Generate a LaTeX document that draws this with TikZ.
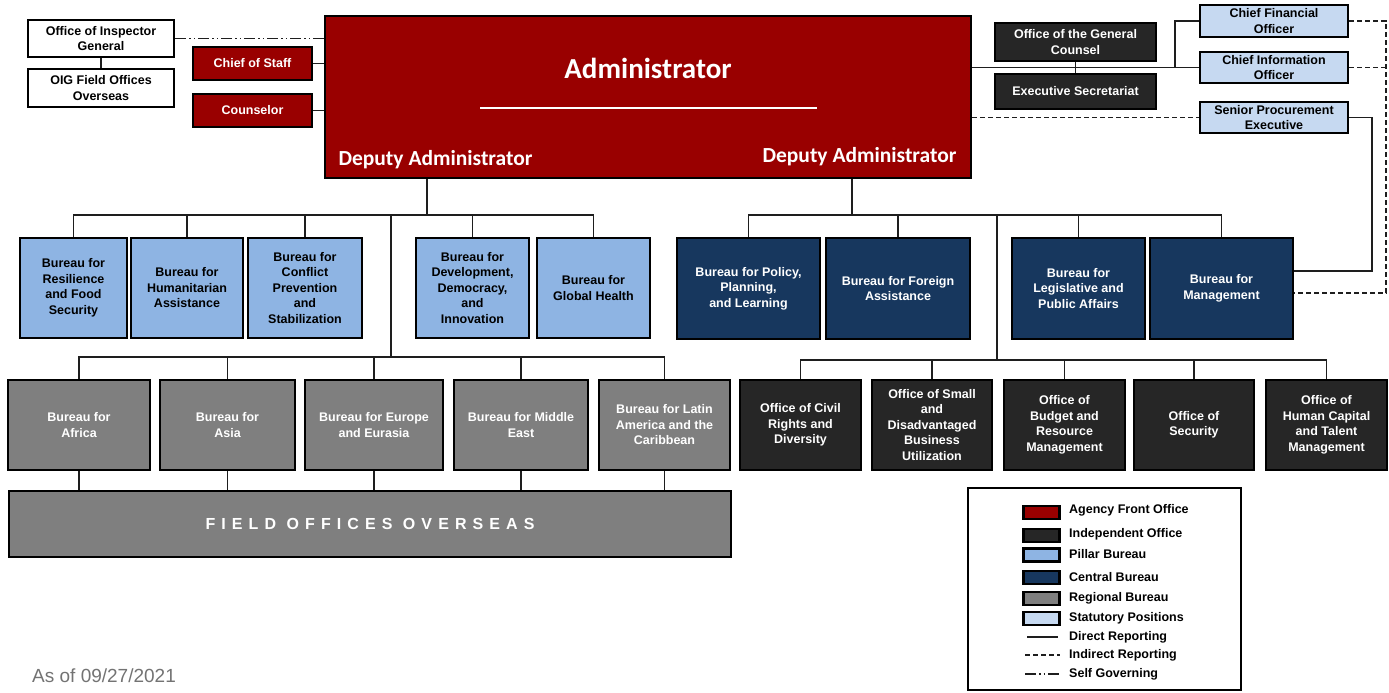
\documentclass[tikz,border=0pt]{standalone}
\usepackage{fontspec}
\setmainfont{Liberation Sans}
\newfontfamily\calfont{Carlito}
\definecolor{afo}{RGB}{153,0,0}
\definecolor{indep}{RGB}{38,38,38}
\definecolor{pillar}{RGB}{142,180,227}
\definecolor{central}{RGB}{23,55,94}
\definecolor{regional}{RGB}{127,127,127}
\definecolor{statut}{RGB}{198,217,241}
\definecolor{linec}{RGB}{30,30,30}
\begin{document}
\begin{tikzpicture}[x=1pt,y=-1pt,
  box/.style={draw=black, line width=2.6pt, align=center, inner sep=2pt,
    font=\fontsize{12.5}{15.5}\selectfont\bfseries},
  afobox/.style={box, fill=afo, text=white},
  indbox/.style={box, fill=indep, text=white},
  pilbox/.style={box, fill=pillar, text=black},
  cenbox/.style={box, fill=central, text=white},
  regbox/.style={box, fill=regional, text=white},
  statbox/.style={box, fill=statut, text=black},
  plainbox/.style={box, fill=white, text=black},
  conn/.style={draw=linec, line width=1.2pt},
  dashedc/.style={draw=linec, line width=1.2pt, dash pattern=on 5pt off 3pt},
  selfgov/.style={draw=linec, line width=1.2pt, dash pattern=on 11pt off 3pt on 1.5pt off 3pt on 1.5pt off 3pt},
  swatch/.style={draw=black, line width=2.4pt, minimum width=36pt, minimum height=13pt, inner sep=0pt},
  legtext/.style={anchor=west, inner sep=0pt, font=\fontsize{12.5}{14}\selectfont\bfseries}
]
\useasboundingbox (0,0) rectangle (1389,693);

% ---------- top ----------
\node[afobox, minimum width=646pt, minimum height=162pt] (admin) at (648,97) {};
\node[text=white, font=\calfont\bfseries\fontsize{29}{32}\selectfont] (admtitle) at (648,68) {Administrator};
\draw[white, line width=2.5pt] (480,108) -- (817,108);
\node[text=white, font=\calfont\bfseries\fontsize{21.5}{24}\selectfont] (depL) at (435.5,160) {Deputy Administrator};
\node[text=white, font=\calfont\bfseries\fontsize{21.5}{24}\selectfont] (depR) at (859.5,157) {Deputy Administrator};

\node[plainbox, minimum width=146pt, minimum height=37pt] (oig) at (101,38.5) {Office of Inspector\\General};
\node[plainbox, minimum width=146pt, minimum height=38pt] (oigf) at (101,88) {OIG Field Offices\\Overseas};
\node[afobox, minimum width=119pt, minimum height=33pt] (cos) at (252.5,63.5) {Chief of Staff};
\node[afobox, minimum width=119pt, minimum height=33pt] (couns) at (252.5,110.5) {Counselor};

\node[indbox, minimum width=161pt, minimum height=38pt] (ogc) at (1075.5,42) {Office of the General\\Counsel};
\node[indbox, minimum width=161pt, minimum height=35pt] (es) at (1075.5,91.5) {Executive Secretariat};
\node[statbox, minimum width=148pt, minimum height=32pt] (cfo) at (1274,21) {Chief Financial\\Officer};
\node[statbox, minimum width=148pt, minimum height=31pt] (cio) at (1274,67.5) {Chief Information\\Officer};
\node[statbox, minimum width=148pt, minimum height=31pt] (spe) at (1274,117.5) {Senior Procurement\\Executive};

% ---------- pillar bureaus ----------
\node[pilbox, minimum width=107pt, minimum height=100pt] (res) at (73.5,288) {Bureau for\\Resilience\\and Food\\Security};
\node[pilbox, minimum width=112pt, minimum height=100pt] (hum) at (187,288) {Bureau for\\Humanitarian\\Assistance};
\node[pilbox, minimum width=114pt, minimum height=100pt] (con) at (305,288) {Bureau for\\Conflict\\Prevention\\and\\Stabilization};
\node[pilbox, minimum width=113pt, minimum height=100pt] (dev) at (472.5,288) {Bureau for\\Development,\\Democracy,\\and\\Innovation};
\node[pilbox, minimum width=113pt, minimum height=100pt] (gh) at (593.5,288) {Bureau for\\Global Health};

% ---------- central bureaus ----------
\node[cenbox, minimum width=143pt, minimum height=101pt] (pol) at (748.5,288.5) {Bureau for Policy,\\Planning,\\and Learning};
\node[cenbox, minimum width=144pt, minimum height=101pt] (fa) at (898,288.5) {Bureau for Foreign\\Assistance};
\node[cenbox, minimum width=133pt, minimum height=101pt] (leg) at (1078.5,288.5) {Bureau for\\Legislative and\\Public Affairs};
\node[cenbox, minimum width=143pt, minimum height=101pt] (mgmt) at (1221.5,288.5) {Bureau for\\Management};

% ---------- regional bureaus ----------
\node[regbox, minimum width=142pt, minimum height=90pt] (afr) at (79,425) {Bureau for\\Africa};
\node[regbox, minimum width=135pt, minimum height=90pt] (asia) at (227.5,425) {Bureau for\\Asia};
\node[regbox, minimum width=138pt, minimum height=90pt] (eur) at (374,425) {Bureau for Europe\\and Eurasia};
\node[regbox, minimum width=134pt, minimum height=90pt] (me) at (521,425) {Bureau for Middle\\East};
\node[regbox, minimum width=131pt, minimum height=90pt] (lac) at (664.5,425) {Bureau for Latin\\America and the\\Caribbean};
\node[regbox, minimum width=722pt, minimum height=66pt,
  font=\fontsize{16}{18}\selectfont\bfseries\addfontfeature{LetterSpace=38}] (fo) at (370,524) {FIELD OFFICES OVERSEAS};

% ---------- independent offices ----------
\node[indbox, minimum width=121pt, minimum height=90pt] (civ) at (800.5,425) {Office of Civil\\Rights and\\Diversity};
\node[indbox, minimum width=120pt, minimum height=90pt] (sdb) at (932,425) {Office of Small\\and\\Disadvantaged\\Business\\Utilization};
\node[indbox, minimum width=121pt, minimum height=90pt] (bud) at (1064.5,425) {Office of\\Budget and\\Resource\\Management};
\node[indbox, minimum width=120pt, minimum height=90pt] (sec) at (1194,425) {Office of\\Security};
\node[indbox, minimum width=121pt, minimum height=90pt] (hc) at (1326.5,425) {Office of\\Human Capital\\and Talent\\Management};

% ---------- connectors: top ----------
\draw[conn] (oig.south) -- (oigf.north);
\draw[selfgov] (oig.east) -- (oig.east -| admin.west);
\draw[conn] (cos.east) -- (cos.east -| admin.west);
\draw[conn] (couns.east) -- (couns.east -| admin.west);
\draw[conn] (ogc.south) -- (es.north);
\draw[conn] (admin.east |- cio.west) -- (cio.west);
\coordinate (cf) at (1175,67.5);
\draw[conn] (cf) |- (cfo.west);
\draw[dashedc] (admin.east |- spe.west) -- (spe.west);
\coordinate (sp) at (1372,271);
\draw[conn] (spe.east) -| (sp) -- (sp -| mgmt.east);
\coordinate (dr) at (1386,293);
\draw[dashedc] (cfo.east) -| (dr) -- (dr -| mgmt.east);
\draw[dashedc] (cio.east) -- (cio.east -| dr);

% ---------- connectors: left ----------
\coordinate (jl) at (427,215);
\draw[conn] (admin.south -| jl) -- (jl);
\draw[conn] (res.north) |- (gh.north |- jl) -- (gh.north);
\foreach \n in {hum,con,dev} \draw[conn] (\n.north) -- (\n.north |- jl);
\coordinate (tl) at (391,357);
\draw[conn] (jl -| tl) -- (tl);
\draw[conn] (afr.north) |- (lac.north |- tl) -- (lac.north);
\foreach \n in {asia,eur,me} \draw[conn] (\n.north) -- (\n.north |- tl);
\foreach \n in {afr,asia,eur,me,lac} \draw[conn] (\n.south) -- (\n.south |- fo.north);

% ---------- connectors: right ----------
\coordinate (jr) at (852,215);
\draw[conn] (admin.south -| jr) -- (jr);
\draw[conn] (pol.north) |- (mgmt.north |- jr) -- (mgmt.north);
\foreach \n in {fa,leg} \draw[conn] (\n.north) -- (\n.north |- jr);
\coordinate (tr) at (997,360);
\draw[conn] (jr -| tr) -- (tr);
\draw[conn] (civ.north) |- (hc.north |- tr) -- (hc.north);
\foreach \n in {sdb,bud,sec} \draw[conn] (\n.north) -- (\n.north |- tr);

% ---------- legend ----------
\node[draw=black, line width=2.5pt, minimum width=273pt, minimum height=202pt, inner sep=0pt] (legend) at (1104.5,589) {};
\node[swatch, fill=afo] (s1) at (1041.5,512.5) {};
\node[swatch, fill=indep] (s2) at (1041.5,535.5) {};
\node[swatch, fill=pillar] (s3) at (1041.5,555) {};
\node[swatch, fill=central] (s4) at (1041.5,577.5) {};
\node[swatch, fill=regional] (s5) at (1041.5,598.5) {};
\node[swatch, fill=statut] (s6) at (1041.5,618.5) {};
\node[legtext] (l1) at (1069,510) {Agency Front Office};
\node[legtext] (l2) at (1069,534) {Independent Office};
\node[legtext] (l3) at (1069,554) {Pillar Bureau};
\node[legtext] (l4) at (1069,577) {Central Bureau};
\node[legtext] (l5) at (1069,598) {Regional Bureau};
\node[legtext] (l6) at (1069,618) {Statutory Positions};
\node[legtext] (l7) at (1069,637) {Direct Reporting};
\node[legtext] (l8) at (1069,655) {Indirect Reporting};
\node[legtext] (l9) at (1069,674) {Self Governing};
\draw[conn] (1027,637) -- (1058,637);
\draw[dashedc] (1025,655) -- (1060,655);
\draw[selfgov] (1025,674) -- (1060,674);

% ---------- date ----------
\node[anchor=west, inner sep=0pt, text=black!55, font=\fontsize{19}{22}\selectfont] (date) at (32,676) {As of 09/27/2021};
\end{tikzpicture}
\end{document}
